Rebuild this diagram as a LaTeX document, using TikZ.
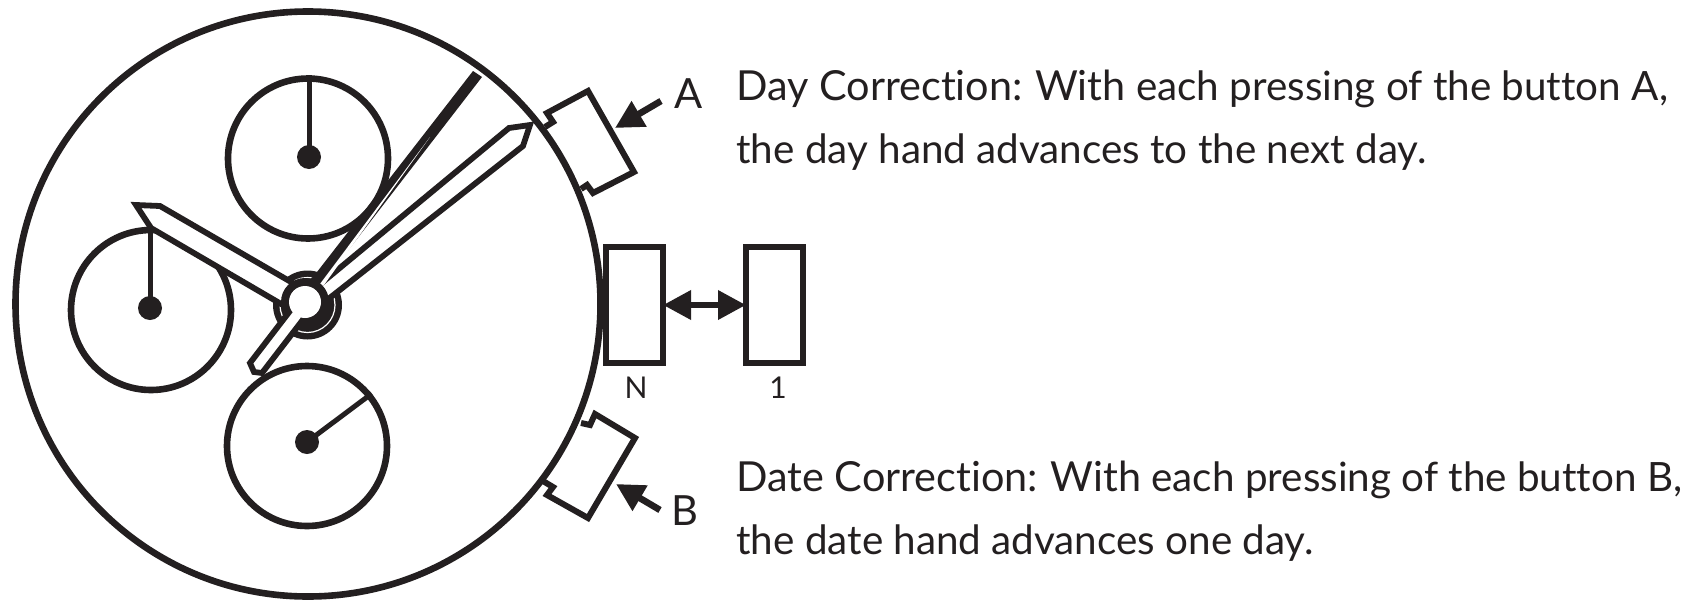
\documentclass[tikz,border=0pt]{standalone}
\usepackage{fontspec}
\usetikzlibrary{arrows.meta}
\setmainfont{Lato}[Ligatures=NoCommon]
\definecolor{ink}{HTML}{231F20}
\newcommand{\colonsp}{\hspace{0.3em}}
\newcommand{\leadsz}{\fontsize{20.7pt}{24pt}\selectfont}
\tikzset{
  ln/.style={draw=ink,line width=2.9pt,line join=miter},
  btn/.style={draw=ink,line width=3pt,line join=miter},
  tick/.style={draw=ink,line width=2.5pt},
  dial/.style={circle,draw=ink,line width=3.3pt,fill=white,inner sep=0pt,minimum size=80pt},
  dot/.style={circle,fill=ink,inner sep=0pt,minimum size=12pt},
  win/.style={rectangle,draw=ink,line width=3pt,fill=white,inner sep=0pt,minimum width=28.5pt,minimum height=58pt},
  txt/.style={anchor=base west,inner sep=0pt,text=ink,font=\fontsize{20.2pt}{24pt}\selectfont},
  lab/.style={anchor=base,inner sep=0pt,text=ink,font=\fontsize{20.8pt}{25pt}\selectfont},
  small/.style={anchor=base,inner sep=0pt,text=ink,font=\fontsize{15pt}{18pt}\selectfont},
  push/.style={draw=ink,line width=3.3pt,-{Triangle[length=14pt,width=14pt,color=ink]}},
  both/.style={draw=ink,line width=3.3pt,{Triangle[length=14pt,width=14pt,color=ink]}-{Triangle[length=14pt,width=14pt,color=ink]},shorten <=-1.5pt,shorten >=-1.5pt}
}
\begin{document}
\begin{tikzpicture}[x=0.5pt,y=-0.5pt]
\useasboundingbox (0,0) rectangle (1703,600);
% buttons
\draw[btn] (545,127) -- (553,122) -- (547,113) -- (588,91) -- (634,172) -- (593,193) -- (587,185) -- (581,189);
\draw[btn] (581,423) -- (590,425) -- (595,414) -- (635,438) -- (588,518) -- (547,495) -- (553,487) -- (543,481);
% case
\node[circle,draw=ink,line width=3.3pt,inner sep=0pt,minimum size=292.5pt] (case) at (308,304) {};
% subdials
\node[dial] (dt) at (308,158.5) {};
\node[dial] (dl) at (151,310) {};
\node[dial] (db) at (307,446) {};
\node[dot] (ht) at (309,157) {};
\node[dot] (hl) at (150,308) {};
\node[dot] (hb) at (307,442) {};
\draw[tick] (ht.center) -- (ht.center |- dt.north);
\draw[tick] (hl.center) -- (hl.center |- dl.north);
\draw[tick] (hb.center) -- (db.39);
% hub rings
\node[circle,fill=ink,inner sep=0pt,minimum size=34.5pt] (hubout) at (307.5,305) {};
\node[circle,draw=white,line width=0.6pt,inner sep=0pt,minimum size=27.5pt] (hubring) at (307.5,305) {};
% left hand
\draw[ln,fill=white] (136,205) -- (160,206) -- (298,286) -- (288,308) -- (151,228) -- cycle;
% long hand
\draw[ln,fill=white] (530,125) -- (523,146) -- (322,304) -- (318,286) -- (509,128) -- cycle;
% second hand
\fill[ink] (473,71) -- (482,77) -- (333,270) -- (322,288) -- (308,282) -- (317,272) -- cycle;
\fill[white] (430,137) -- (315.5,290) -- (319,292) -- cycle;
% hub centre
\node[circle,fill=ink,inner sep=0pt,minimum size=24pt] (hubmid) at (305,302) {};
% tail
\draw[ln,fill=white] (293,307) -- (250,363) -- (254,372) -- (262,373) -- (305,317) -- cycle;
\node[circle,fill=white,inner sep=0pt,minimum size=16pt] (hubin) at (305,302) {};
% windows
\node[win] (wn) at (634.5,305) {};
\node[win] (w1) at (774.5,305) {};
\draw[both] (wn.east) -- (w1.west);
% button arrows
\coordinate (atail) at (661,101);
\coordinate (atip) at (615,128);
\coordinate (btail) at (660,510);
\coordinate (btip) at (616,484);
\draw[push] (atail) -- (atip);
\draw[push] (btail) -- (btip);
% labels
\node[lab] (la) at (689,108) {A};
\node[lab] (lb) at (685,525) {B};
\node[small] (ln) at (636,398) {N};
\node[small] (l1) at (778,398) {1};
\node[txt] (t1) at (736,100) {{\leadsz Day Correction:\colonsp With} each pressing of the button A,};
\node[txt] (t2) at (736,163) {the day hand advances to the next day.};
\node[txt] (t3) at (736,491) {{\leadsz Date Correction:\colonsp With} each pressing of the button B,};
\node[txt] (t4) at (736,554) {the date hand advances one day.};
\end{tikzpicture}
\end{document}
